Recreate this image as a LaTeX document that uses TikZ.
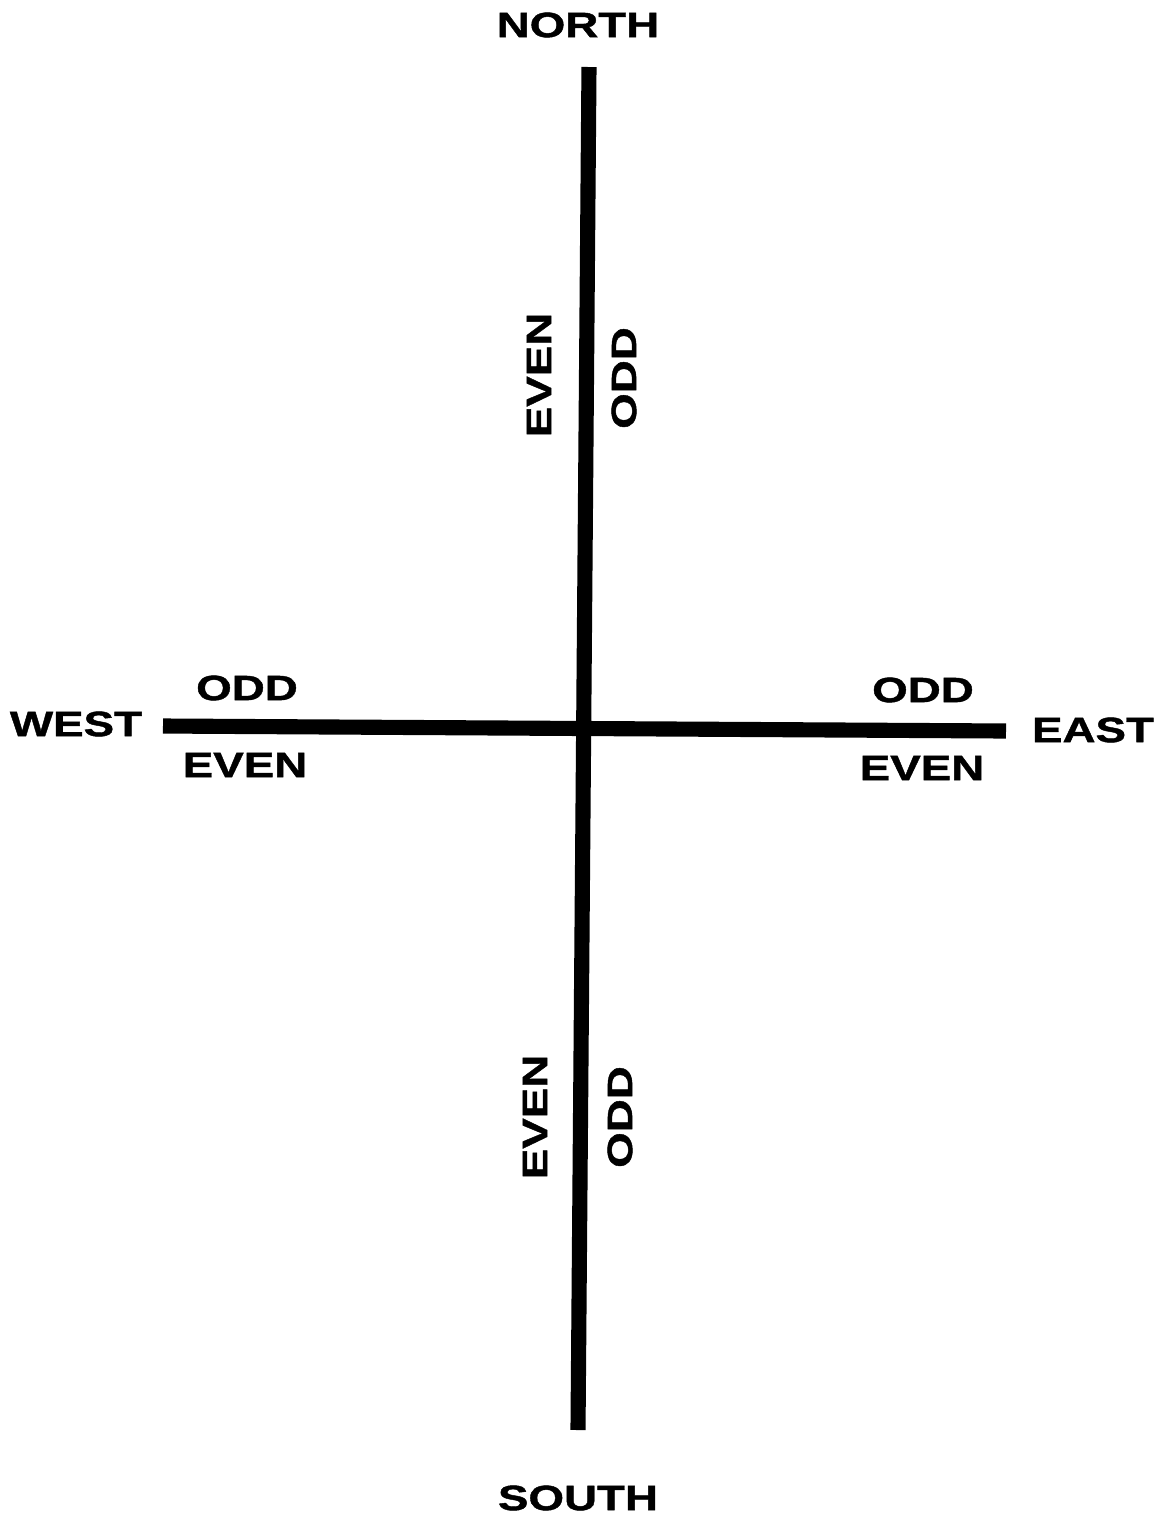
\documentclass[tikz,border=0pt]{standalone}
\usepackage{fontspec}
\newfontfamily\lblfont[FakeStretch=1.3,FakeBold=1.2]{Liberation Sans Bold}
\usepackage{tikz}
\usetikzlibrary{positioning}

\begin{document}
\begin{tikzpicture}[
    x=0.01cm, y=-0.01cm,
    dir/.style={font=\lblfont\fontsize{10}{12}\selectfont, inner sep=0pt},
    side/.style={font=\lblfont\fontsize{10}{12}\selectfont, inner sep=0pt},
    road/.style={line width=4.3pt},
]
\useasboundingbox (0,0) rectangle (1164,1520);

\coordinate (ntop) at (589,67);
\coordinate (sbot) at (578,1430);
\coordinate (wend) at (163,726);
\coordinate (eend) at (1006,731);

\node[dir] (north) at (578,25) {NORTH};
\node[dir] (south) at (578,1498) {SOUTH};
\node[dir] (west) at (76,724) {WEST};
\node[dir] (east) at (1093,730) {EAST};

\node[side] (wodd) at (247,688) {ODD};
\node[side] (weven) at (245,765) {EVEN};
\node[side] (eodd) at (923,690) {ODD};
\node[side] (eeven) at (922,768) {EVEN};
\node[side, rotate=90] (neven) at (539,375) {EVEN};
\node[side, rotate=90] (nodd) at (624,378) {ODD};
\node[side, rotate=90] (seven) at (535,1117) {EVEN};
\node[side, rotate=90] (sodd) at (620,1117) {ODD};

\draw[road] (ntop) -- (sbot);
\draw[road] (wend) -- (eend);
\end{tikzpicture}
\end{document}
